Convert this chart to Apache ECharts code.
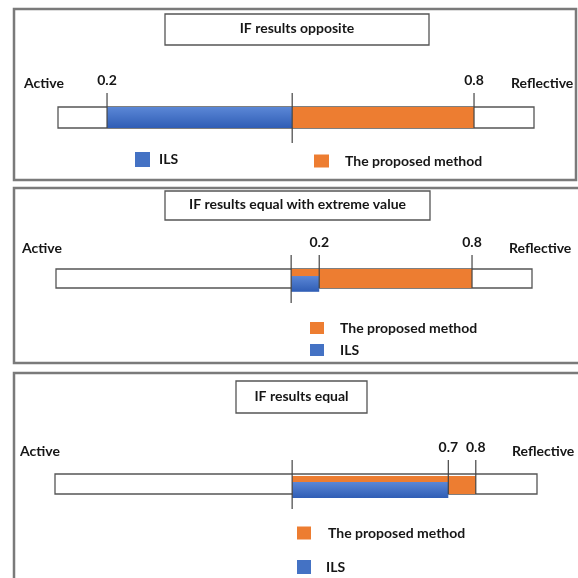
<!DOCTYPE html>
<html><head><meta charset="utf-8">
<script src="https://cdn.jsdelivr.net/npm/echarts@6/dist/echarts.min.js"></script>
<style>html,body{margin:0;padding:0;background:#fff}#c{width:578px;height:578px}</style>
</head><body><div id="c"></div>
<script>
// ---- data (positions along each schematic scale bar, 0 = left end, 1 = right end) ----
const panelTitles = ['IF results opposite', 'IF results equal with extreme value', 'IF results equal'];
const endLabels = ['Active', 'Reflective'];
const seriesNames = ['ILS', 'The proposed method'];
const ilsRange = [[0.103, 0.492], [0.494, 0.553], [0.492, 0.816]];
const proposedRange = [[0.492, 0.874], [0.494, 0.874], [0.492, 0.873]];
const centerPos = [0.492, 0.494, 0.492];
const tickPos = [[0.103, 0.874], [0.553, 0.874], [0.816, 0.873]];
const tickLabels = [['0.2', '0.8'], ['0.2', '0.8'], ['0.7', '0.8']];

// ---- layout / style ----
const FONT = 'Lato';
const TXT = '#161616';
const BLUE = new echarts.graphic.LinearGradient(0, 0, 0, 1, [{offset: 0, color: '#5b87d6'}, {offset: 1, color: '#2f5db5'}]);
const ORANGE = '#ED7D31';
const grids = [
  {left: 58, top: 107, width: 476, height: 21},
  {left: 56, top: 269, width: 476, height: 19},
  {left: 55, top: 474, width: 482, height: 20}
];
// vertical extent of the fills relative to bar box (0 top, 1 bottom)
const ilsV = [[0, 1], [0.37, 1.2], [0.4, 1.2]];
const propV = [[0, 1], [0, 1], [0.1, 1]];

function rectRender(v, fill) {
  return function (params, api) {
    const a = api.coord([api.value(0), v[0]]);
    const b = api.coord([api.value(1), v[1]]);
    return {type: 'rect', shape: {x: a[0], y: a[1], width: b[0] - a[0], height: b[1] - a[1]}, style: {fill: fill}};
  };
}
function tickRender(labels, above, below) {
  return function (params, api) {
    const t = api.coord([api.value(0), 0]);
    const b = api.coord([api.value(0), 1]);
    const children = [{type: 'line', shape: {x1: t[0], y1: t[1] - above, x2: t[0], y2: b[1] + below}, style: {stroke: '#444', lineWidth: 1.2}}];
    if (labels) {
      children.push({type: 'text', style: {text: labels[params.dataIndex], x: t[0], y: t[1] - above - 6, align: 'center', verticalAlign: 'bottom', font: 'bold 14px ' + FONT, fill: TXT}});
    }
    return {type: 'group', children: children};
  };
}

function legendItem(name, left, top, w, h, pad) {
  return {left: left, top: top, orient: 'horizontal', itemWidth: w, itemHeight: h, icon: 'rect', data: [name],
    selectedMode: false, padding: 0,
    textStyle: {fontFamily: FONT, fontWeight: 'bold', fontSize: 14, color: TXT, padding: [0, 0, 0, pad]}};
}

const option = {
  animation: false,
  grid: grids.map(g => Object.assign({show: true, borderColor: '#555', borderWidth: 1.3, backgroundColor: '#fff'}, g)),
  xAxis: grids.map((g, i) => ({type: 'value', gridIndex: i, min: 0, max: 1, show: false})),
  yAxis: grids.map((g, i) => ({type: 'value', gridIndex: i, min: 0, max: 1, inverse: true, show: false})),
  legend: [
    legendItem('ILS', 135, 152, 15, 15, 4),
    legendItem('The proposed method', 314, 154, 15, 13, 11),
    legendItem('The proposed method', 310, 321, 14, 12, 11),
    legendItem('ILS', 310, 343, 14, 12, 11),
    legendItem('The proposed method', 297, 526, 14, 13, 12),
    legendItem('ILS', 297, 560, 14, 14, 10)
  ],
  series: [],
  graphic: []
};

for (let i = 0; i < 3; i++) {
  option.series.push({type: 'custom', name: seriesNames[1], xAxisIndex: i, yAxisIndex: i, z: 2, itemStyle: {color: ORANGE},
    renderItem: rectRender(propV[i], ORANGE), data: [proposedRange[i]]});
  option.series.push({type: 'custom', name: seriesNames[0], xAxisIndex: i, yAxisIndex: i, z: 3, itemStyle: {color: '#4472C4'},
    renderItem: rectRender(ilsV[i], BLUE), data: [ilsRange[i]]});
  option.series.push({type: 'custom', xAxisIndex: i, yAxisIndex: i, z: 4, silent: true,
    renderItem: tickRender(null, 14, 15), data: [[centerPos[i]]]});
  option.series.push({type: 'custom', xAxisIndex: i, yAxisIndex: i, z: 4, silent: true,
    renderItem: tickRender(tickLabels[i], 14, 0), data: tickPos[i].map(v => [v])});
}

// frames, title boxes, end labels
const frames = [
  {x: 14, y: 9, width: 562, height: 171},
  {x: 14, y: 188, width: 600, height: 175},
  {x: 14, y: 373, width: 600, height: 260}
];
const titleBoxes = [
  {x: 165, y: 14, width: 264, height: 31},
  {x: 165, y: 191, width: 265, height: 29},
  {x: 236, y: 381, width: 131, height: 32}
];
const endY = [83, 248, 451];
const endX = [[24, 511], [22, 509], [20, 512]];
for (let i = 0; i < 3; i++) {
  option.graphic.push({type: 'rect', shape: frames[i], style: {fill: 'none', stroke: '#7a7a7a', lineWidth: 2.5}, silent: true});
  option.graphic.push({type: 'rect', shape: titleBoxes[i], style: {fill: '#fff', stroke: '#555', lineWidth: 1.3}, silent: true});
  option.graphic.push({type: 'text', x: titleBoxes[i].x + titleBoxes[i].width / 2, y: titleBoxes[i].y + titleBoxes[i].height / 2 - 1,
    style: {text: panelTitles[i], align: 'center', verticalAlign: 'middle', font: 'bold 14px ' + FONT, fill: TXT}, silent: true});
  option.graphic.push({type: 'text', x: endX[i][0], y: endY[i], style: {text: endLabels[0], align: 'left', verticalAlign: 'middle', font: 'bold 14px ' + FONT, fill: TXT}, silent: true});
  option.graphic.push({type: 'text', x: endX[i][1], y: endY[i], style: {text: endLabels[1], align: 'left', verticalAlign: 'middle', font: 'bold 14px ' + FONT, fill: TXT}, silent: true});
}

const chart = echarts.init(document.getElementById('c'));
chart.setOption(option);
</script></body></html>
